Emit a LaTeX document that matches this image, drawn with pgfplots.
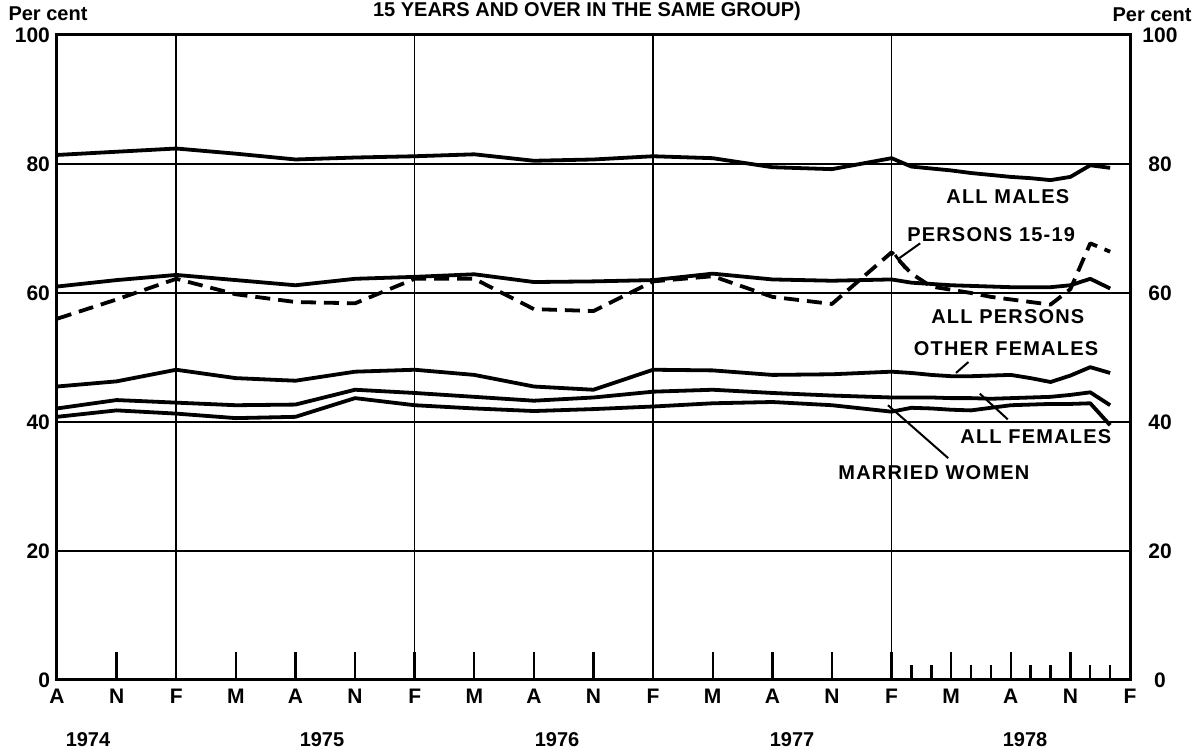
\documentclass[border=0pt]{standalone}
\usepackage{fontspec}
\setmainfont{Liberation Sans}
\newfontfamily\lblfont[LetterSpace=6]{Liberation Sans}
\usepackage{pgfplots}
\usepackage{pgfplotstable}
\pgfplotsset{compat=1.18}

\pgfplotstableread{
x males persons youth other allfem married
0 81.4 61.0 56.0 45.5 42.1 40.8
1 81.9 62.0 59.0 46.3 43.4 41.8
2 82.4 62.8 62.2 48.1 43.0 41.3
3 81.6 62.0 59.8 46.8 42.6 40.6
4 80.7 61.2 58.6 46.4 42.7 40.8
5 81.0 62.2 58.4 47.8 45.0 43.7
6 81.2 62.5 62.2 48.1 44.5 42.6
7 81.5 62.9 62.2 47.3 43.9 42.1
8 80.5 61.7 57.5 45.5 43.3 41.7
9 80.7 61.8 57.2 45.0 43.8 42.0
10 81.2 62.0 61.8 48.1 44.7 42.4
11 80.9 63.0 62.6 48.0 45.0 42.9
12 79.5 62.1 59.4 47.3 44.5 43.1
13 79.2 61.9 58.3 47.4 44.1 42.6
14 80.9 62.1 66.3 47.8 43.8 41.6
14.333 79.6 61.6 63.0 47.6 43.8 42.2
14.667 79.3 61.4 61.0 47.3 43.8 42.1
15 79.0 61.2 60.5 47.1 43.7 41.9
15.333 78.6 61.1 60.0 47.1 43.7 41.8
15.667 78.3 61.0 59.4 47.2 43.6 42.2
16 78.0 60.9 59.0 47.3 43.7 42.6
16.333 77.8 60.9 58.6 46.8 43.8 42.7
16.667 77.5 60.9 58.2 46.2 43.9 42.8
17 78.0 61.2 60.6 47.2 44.2 42.8
17.333 79.8 62.2 67.7 48.5 44.6 42.9
17.667 79.4 60.7 66.4 47.6 42.6 39.5
}\data

\begin{document}
\begin{tikzpicture}
\begin{axis}[
  at={(0,0)}, anchor=south west,
  scale only axis, width=536.5pt, height=322.5pt,
  xmin=0, xmax=18, ymin=0, ymax=100,
  clip=false,
  axis line style={line width=1.5pt},
  xtick={0,...,18},
  xticklabels={A,N,F,M,A,N,F,M,A,N,F,M,A,N,F,M,A,N,F},
  minor xtick={14.333,14.667,15.333,15.667,16.333,16.667,17.333,17.667},
  ytick={0,20,40,60,80,100},
  yticklabels={0,20,40,60,80,100},
  tick pos=left,
  tick align=inside,
  major tick length=14pt,
  minor tick length=7.5pt,
  xtick style={line width=1.2pt, black},
  ytick style={draw=none},
  ymajorgrids,
  grid style={black, line width=0.8pt},
  extra x ticks={2,6,10,14},
  extra x tick labels={},
  extra x tick style={grid=major, major tick length=0pt},
  ticklabel style={font=\bfseries\fontsize{10.5}{12}\selectfont},
  xticklabel style={yshift=-1pt},
]
\addplot[black, line width=1.9pt, line join=round] table[x=x,y=males]{\data};
\addplot[black, line width=1.9pt, line join=round] table[x=x,y=persons]{\data};
\addplot[black, line width=1.9pt, line join=round, dash pattern=on 7.5pt off 4pt] table[x=x,y=youth]{\data};
\addplot[black, line width=1.9pt, line join=round] table[x=x,y=other]{\data};
\addplot[black, line width=1.9pt, line join=round] table[x=x,y=allfem]{\data};
\addplot[black, line width=1.9pt, line join=round] table[x=x,y=married]{\data};

\begin{scope}[every node/.style={font=\lblfont\bfseries\fontsize{10}{12}\selectfont}]
\node at (axis cs:15.95,74.9) {ALL MALES};
\node at (axis cs:15.67,69.0) {PERSONS 15-19};
\node at (axis cs:15.95,56.3) {ALL PERSONS};
\node at (axis cs:15.92,51.3) {OTHER FEMALES};
\node at (axis cs:16.42,37.8) {ALL FEMALES};
\node at (axis cs:14.71,32.2) {MARRIED WOMEN};
\end{scope}
\draw[line width=1pt] (axis cs:14.48,67.7) -- (axis cs:14.13,65.4);
\draw[line width=1.4pt] (axis cs:14.06,65.9) -- (axis cs:14.23,63.8);
\draw[line width=1pt] (axis cs:15.29,49.3) -- (axis cs:15.08,47.6);
\draw[line width=1pt] (axis cs:15.48,44.4) -- (axis cs:15.95,40.4);
\draw[line width=1pt] (axis cs:13.94,42.6) -- (axis cs:14.95,34.4);

\begin{scope}[every node/.style={font=\bfseries\fontsize{10.5}{12}\selectfont, xshift=15pt}]
\node at (axis cs:18,0) {0};
\node at (axis cs:18,20) {20};
\node at (axis cs:18,40) {40};
\node at (axis cs:18,60) {60};
\node at (axis cs:18,80) {80};
\node at (axis cs:18,100) {100};
\end{scope}
\end{axis}
\pgfresetboundingbox
\path[use as bounding box] (-28.5pt,-36.5pt) rectangle (570.5pt,340pt);
\begin{scope}[every node/.style={font=\bfseries\fontsize{10}{12}\selectfont}]
\node[anchor=base] at (265pt,331.5pt) {15 YEARS AND OVER IN THE SAME GROUP)};
\node at (-4.5pt,333pt) {Per cent};
\node at (547.5pt,332.5pt) {Per cent};
\node at (15.5pt,-30pt) {1974};
\node at (132.5pt,-30pt) {1975};
\node at (250pt,-30pt) {1976};
\node at (367.5pt,-30pt) {1977};
\node at (484pt,-30pt) {1978};
\end{scope}
\end{tikzpicture}
\end{document}
